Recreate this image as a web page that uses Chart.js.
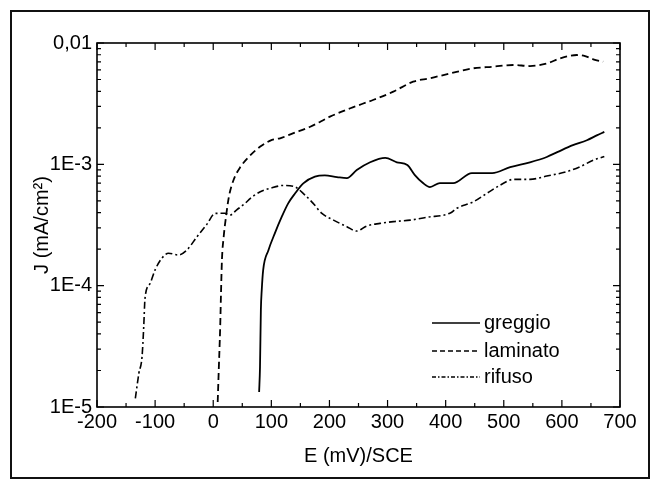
<!DOCTYPE html>
<html>
<head>
<meta charset="utf-8">
<script src="https://cdn.jsdelivr.net/npm/chart.js@4/dist/chart.umd.min.js"></script>
<style>
  html, body { margin: 0; padding: 0; background: #fff; }
  #wrap { width: 653px; height: 483px; }
</style>
</head>
<body>
<div id="wrap"><canvas id="chart" width="653" height="483"></canvas></div>
<script>
// tick labels
const xTickValues = [-200, -100, 0, 100, 200, 300, 400, 500, 600, 700];
const yTickValues = [1e-5, 1e-4, 1e-3, 1e-2];
const yTickLabels = ["1E-5", "1E-4", "1E-3", "0,01"];

// series: E (mV/SCE) and J (mA/cm2)
const greggioE = [79, 80.5, 82, 83.5, 86, 95, 106, 118, 129, 141, 155, 175, 192, 213, 230, 247, 270, 296, 316, 334, 347, 361, 373, 390, 413, 445, 480, 511, 545, 574, 592, 619, 643, 661, 673];
const greggioJ = [1.33e-5, 2.14e-5, 6.3e-5, 9.2e-5, 1.35e-4, 1.96e-4, 2.70e-4, 3.70e-4, 4.77e-4, 5.77e-4, 6.97e-4, 7.91e-4, 8.1e-4, 7.85e-4, 7.70e-4, 8.97e-4, 1.04e-3, 1.13e-3, 1.04e-3, 9.87e-4, 8.16e-4, 7.01e-4, 6.50e-4, 7.01e-4, 7.0e-4, 8.47e-4, 8.47e-4, 9.5e-4, 1.04e-3, 1.15e-3, 1.26e-3, 1.44e-3, 1.58e-3, 1.74e-3, 1.85e-3];

const laminatoE = [7.7, 9.5, 12, 13.4, 15, 18, 22, 27, 35, 47, 64, 81, 101, 115, 137, 167, 201, 236, 275, 310, 344, 373, 408, 447, 482, 516, 545, 575, 597, 626, 640, 654, 671];
const laminatoJ = [1.10e-5, 2.01e-5, 4.58e-5, 8.69e-5, 1.63e-4, 2.53e-4, 3.70e-4, 5.41e-4, 7.43e-4, 9.55e-4, 1.19e-3, 1.40e-3, 1.59e-3, 1.64e-3, 1.80e-3, 2.04e-3, 2.47e-3, 2.90e-3, 3.39e-3, 3.97e-3, 4.80e-3, 5.12e-3, 5.62e-3, 6.18e-3, 6.38e-3, 6.59e-3, 6.46e-3, 6.80e-3, 7.48e-3, 7.96e-3, 7.81e-3, 7.34e-3, 7.01e-3];

const rifusoE = [-134, -128, -122.5, -119.6, -117.4, -108.8, -100, -88.6, -77, -60, -45.6, -28, -11, 3.4, 20, 29, 40, 55, 64, 81, 98, 121, 138, 158, 172, 187, 207, 230, 247, 264, 287, 310, 339, 368, 408, 419, 448, 471, 494, 517, 545, 574, 608, 631, 654, 673];
const rifusoJ = [1.18e-5, 1.89e-5, 2.59e-5, 4.58e-5, 7.85e-5, 1.04e-4, 1.35e-4, 1.68e-4, 1.85e-4, 1.79e-4, 1.96e-4, 2.53e-4, 3.2e-4, 3.94e-4, 3.95e-4, 3.82e-4, 4.2e-4, 4.77e-4, 5.25e-4, 5.94e-4, 6.34e-4, 6.7e-4, 6.6e-4, 5.58e-4, 4.77e-4, 3.94e-4, 3.47e-4, 3.06e-4, 2.82e-4, 3.10e-4, 3.26e-4, 3.37e-4, 3.47e-4, 3.66e-4, 3.97e-4, 4.34e-4, 4.92e-4, 5.77e-4, 6.75e-4, 7.52e-4, 7.52e-4, 8.01e-4, 8.69e-4, 9.55e-4, 1.08e-3, 1.16e-3];

const FONT = "'Liberation Sans', Arial, sans-serif";

function toPoints(es, js) {
    return es.map((e, i) => ({ x: e, y: js[i] }));
}

// white page + outer frame of the figure
const frame = {
    id: "frame",
    beforeDraw(chart) {
        const ctx = chart.ctx;
        ctx.save();
        ctx.fillStyle = "#fff";
        ctx.fillRect(0, 0, chart.width, chart.height);
        ctx.strokeStyle = "#111";
        ctx.lineWidth = 2;
        ctx.strokeRect(11, 11, 638, 467);
        ctx.restore();
    }
};

// plot box with inward ticks on all four sides
const axisTicks = {
    id: "axisTicks",
    afterDraw(chart) {
        const { ctx, chartArea: a, scales: { x, y } } = chart;
        ctx.save();
        ctx.strokeStyle = "#000";
        ctx.lineWidth = 1.6;
        ctx.strokeRect(a.left, a.top, a.right - a.left, a.bottom - a.top);
        ctx.lineWidth = 1.2;
        ctx.beginPath();
        for (let v = xTickValues[0]; v <= xTickValues[xTickValues.length - 1]; v += 50) {
            const px = x.getPixelForValue(v);
            const len = v % 100 === 0 ? 7 : 4;
            ctx.moveTo(px, a.bottom); ctx.lineTo(px, a.bottom - len);
            ctx.moveTo(px, a.top); ctx.lineTo(px, a.top + len);
        }
        for (let d = 0; d < yTickValues.length; d++) {
            const base = yTickValues[d];
            for (let m = 1; m <= 9; m++) {
                if (d === yTickValues.length - 1 && m > 1) break;
                const py = y.getPixelForValue(base * m);
                const len = m === 1 ? 7 : 4;
                ctx.moveTo(a.left, py); ctx.lineTo(a.left + len, py);
                ctx.moveTo(a.right, py); ctx.lineTo(a.right - len, py);
            }
        }
        ctx.stroke();
        ctx.restore();
    }
};

// legend in the lower right of the plot
const innerLegend = {
    id: "innerLegend",
    afterDraw(chart) {
        const { ctx, chartArea: a } = chart;
        const rows = [-84, -56, -30];
        ctx.save();
        ctx.font = "20px " + FONT;
        ctx.fillStyle = "#000";
        ctx.textBaseline = "middle";
        chart.data.datasets.forEach((ds, i) => {
            const yy = a.bottom + rows[i];
            ctx.strokeStyle = "#000";
            ctx.lineWidth = 1.4;
            ctx.setLineDash(ds.legendDash);
            ctx.beginPath();
            ctx.moveTo(a.right - 188, yy);
            ctx.lineTo(a.right - 140, yy);
            ctx.stroke();
            ctx.setLineDash([]);
            ctx.fillText(ds.label, a.right - 136, yy);
        });
        ctx.restore();
    }
};

new Chart(document.getElementById("chart"), {
    type: "scatter",
    data: {
        datasets: [
            {
                label: "greggio",
                data: toPoints(greggioE, greggioJ),
                showLine: true,
                borderColor: "#000",
                borderWidth: 1.8,
                borderDash: [],
                legendDash: [],
                pointRadius: 0,
                cubicInterpolationMode: "monotone"
            },
            {
                label: "laminato",
                data: toPoints(laminatoE, laminatoJ),
                showLine: true,
                borderColor: "#000",
                borderWidth: 1.8,
                borderDash: [7, 4],
                legendDash: [5, 3],
                pointRadius: 0,
                cubicInterpolationMode: "monotone"
            },
            {
                label: "rifuso",
                data: toPoints(rifusoE, rifusoJ),
                showLine: true,
                borderColor: "#000",
                borderWidth: 1.6,
                borderDash: [7, 3, 2, 3],
                legendDash: [4, 2, 1.5, 2],
                pointRadius: 0,
                cubicInterpolationMode: "monotone"
            }
        ]
    },
    options: {
        responsive: false,
        animation: false,
        events: [],
        layout: { padding: { left: 20, top: 43, right: 33, bottom: 10 } },
        plugins: {
            legend: { display: false },
            tooltip: { enabled: false }
        },
        scales: {
            x: {
                type: "linear",
                min: -200,
                max: 700,
                afterBuildTicks: scale => { scale.ticks = xTickValues.map(v => ({ value: v })); },
                afterFit: scale => { scale.height = 66; scale.paddingLeft = 0; scale.paddingRight = 0; },
                grid: { display: false, drawTicks: false },
                border: { display: false },
                ticks: {
                    color: "#000",
                    padding: 3,
                    maxRotation: 0,
                    font: { family: FONT, size: 20 },
                    callback: v => String(v)
                },
                title: {
                    display: true,
                    text: "E (mV)/SCE",
                    color: "#000",
                    font: { family: FONT, size: 20 },
                    padding: { top: 0, bottom: 5 }
                }
            },
            y: {
                type: "logarithmic",
                min: 1e-5,
                max: 1e-2,
                afterBuildTicks: scale => { scale.ticks = yTickValues.map(v => ({ value: v })); },
                afterFit: scale => { scale.width = 77; scale.paddingTop = 0; scale.paddingBottom = 0; },
                grid: { display: false, drawTicks: false },
                border: { display: false },
                ticks: {
                    color: "#000",
                    padding: 5,
                    font: { family: FONT, size: 20 },
                    callback: (v, i) => yTickLabels[i]
                },
                title: {
                    display: true,
                    text: "J (mA/cm²)",
                    color: "#000",
                    font: { family: FONT, size: 20 },
                    padding: { top: 10, bottom: 0 }
                }
            }
        }
    },
    plugins: [frame, axisTicks, innerLegend]
});
</script>
</body>
</html>
